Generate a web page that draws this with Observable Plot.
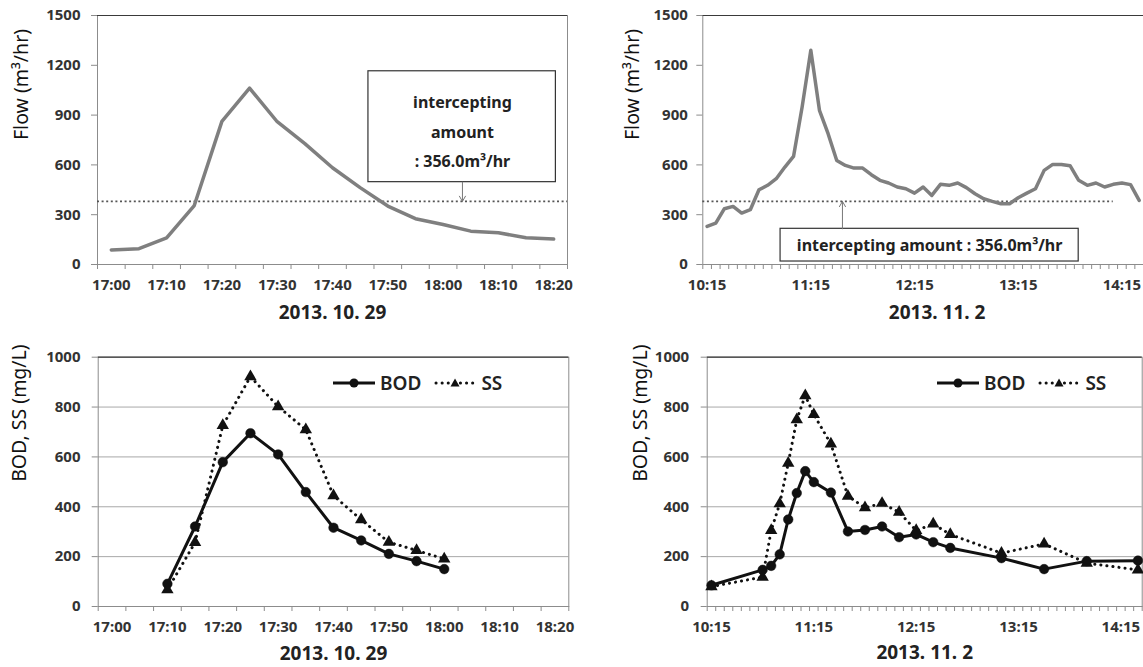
<!DOCTYPE html>
<html><head><meta charset="utf-8">
<script src="https://cdn.jsdelivr.net/npm/d3@7"></script>
<script src="https://cdn.jsdelivr.net/npm/@observablehq/plot@0.6"></script>
<style>
body{margin:0;background:#fff;font-family:"Noto Sans",sans-serif;}
#wrap{position:relative;width:1143px;height:667px;overflow:hidden;background:#fff;}
.panel{position:absolute;}
.panel g[aria-label*="axis"] text, .panel g[aria-label*="tick label"] text{font-size:15px !important;font-weight:700 !important;}
.legend{position:absolute;display:flex;align-items:center;height:24px;font-size:19px;font-weight:600;color:#222;font-family:"Noto Sans",sans-serif;}
.legend svg{display:block;}
</style></head><body><div id="wrap"></div>
<script>
// ---------- data ----------
const flowTimes1 = ["17:00","17:05","17:10","17:15","17:20","17:25","17:30","17:35","17:40","17:45","17:50","17:55","18:00","18:05","18:10","18:15","18:20"];
const flowValues1 = [88, 95, 160, 355, 862, 1062, 860, 728, 583, 463, 352, 276, 241, 201, 191, 161, 153];

const flowTimes2 = ["10:15","10:20","10:25","10:30","10:35","10:40","10:45","10:50","10:55","11:00","11:05","11:10","11:15","11:20","11:25","11:30","11:35","11:40","11:45","11:50","11:55","12:00","12:05","12:10","12:15","12:20","12:25","12:30","12:35","12:40","12:45","12:50","12:55","13:00","13:05","13:10","13:15","13:20","13:25","13:30","13:35","13:40","13:45","13:50","13:55","14:00","14:05","14:10","14:15","14:20","14:25"];
const flowValues2 = [229, 249, 336, 350, 310, 330, 450, 477, 517, 587, 651, 950, 1291, 929, 788, 627, 597, 581, 581, 541, 507, 491, 467, 456, 430, 467, 416, 483, 477, 491, 463, 426, 396, 380, 366, 366, 402, 430, 456, 567, 603, 603, 595, 507, 477, 491, 467, 483, 491, 481, 386];

const wqTimes1 = ["17:10","17:15","17:20","17:25","17:30","17:35","17:40","17:45","17:50","17:55","18:00"];
const bodValues1 = [91, 321, 579, 695, 610, 459, 316, 265, 211, 182, 150];
const ssValues1 = [67, 257, 726, 922, 802, 709, 445, 348, 258, 225, 191];

const wqTimes2 = ["10:15","10:45","10:50","10:55","11:00","11:05","11:10","11:15","11:25","11:35","11:45","11:55","12:05","12:15","12:25","12:35","13:05","13:30","13:55","14:25"];
const bodValues2 = [85, 147, 163, 209, 349, 455, 543, 499, 457, 301, 307, 321, 278, 289, 258, 235, 194, 150, 182, 184];
const ssValues2 = [80, 118, 305, 412, 575, 749, 846, 770, 652, 443, 396, 414, 378, 305, 331, 289, 214, 251, 174, 147];

const xLabels1 = ["17:00","17:10","17:20","17:30","17:40","17:50","18:00","18:10","18:20"];
const xLabels2 = ["10:15","11:15","12:15","13:15","14:15"];
const flowTicks = [0, 300, 600, 900, 1200, 1500];
const wqTicks = [0, 200, 400, 600, 800, 1000];
const wqGrid = [200, 400, 600, 800];

const dateTitle1 = "2013. 10. 29";
const dateTitle2 = "2013. 11. 2";
const flowLabel = "Flow (m³/hr)";
const wqLabel = "BOD, SS (mg/L)";
const interceptLevel = 380; // drawn position of the 356.0 m³/hr line
const annot1Lines = ["intercepting\namount\n: 356.0m³/hr"];
const annot2Lines = ["intercepting amount : 356.0m³/hr"];
const seriesNames = ["BOD", "SS"];

// ---------- helpers ----------
const toMin = (t, base) => { const [h, m] = t.split(":").map(Number); return h * 60 + m - base; };
const base1 = 17 * 60, base2 = 10 * 60 + 15;
const fmt = base => m => { const t = base + m; return `${Math.floor(t / 60)}:${String(t % 60).padStart(2, "0")}`; };
const bounds = (lo, hi) => d3.range(lo, hi + 0.01, 5);

const flow1 = flowTimes1.map((t, i) => ({x: toMin(t, base1), y: flowValues1[i]}));
const flow2 = flowTimes2.map((t, i) => ({x: toMin(t, base2), y: flowValues2[i]}));
const bod1 = wqTimes1.map((t, i) => ({x: toMin(t, base1), y: bodValues1[i]}));
const ss1 = wqTimes1.map((t, i) => ({x: toMin(t, base1), y: ssValues1[i]}));
const bod2 = wqTimes2.map((t, i) => ({x: toMin(t, base2), y: bodValues2[i]}));
const ss2 = wqTimes2.map((t, i) => ({x: toMin(t, base2), y: ssValues2[i]}));

const FONT = "Noto Sans";
const STYLE = {fontFamily: FONT, fontWeight: "bold", fontSize: "14.5px", background: "transparent"};
const wrap = document.getElementById("wrap");

function commonAxes({xmax, labels, base, yTicks, tickPad, yLabel, yLabelDx, title, titleDy, titleDx}) {
  return [
    Plot.frame({stroke: "#8c8c8c"}),
    Plot.ruleY([yTicks[yTicks.length - 1]], {stroke: "#3a3a3a", strokeWidth: 1.2}),
    Plot.axisY({ticks: yTicks, tickSize: 6, tickPadding: tickPad, tickFormat: d => String(d), fill: "#333", stroke: "#8c8c8c", label: null}),
    Plot.axisX({ticks: bounds(-2.5, xmax), tickSize: 5, tickFormat: () => "", stroke: "#8c8c8c", label: null}),
    Plot.axisX({ticks: labels.map(t => toMin(t, base)), tickSize: 0, tickPadding: 15, tickFormat: fmt(base), fill: "#333", label: null}),
    Plot.text([yLabel], {frameAnchor: "left", dx: yLabelDx, rotate: -90, fontSize: 19.5, fontWeight: "normal", fill: "#111"}),
    Plot.text([title], {frameAnchor: "bottom", dy: titleDy, dx: titleDx || 0, fontSize: 19, fontWeight: "bold", fill: "#222"})
  ];
}

function place(svg, left, top) {
  svg.classList.add("panel");
  svg.style.left = left + "px";
  svg.style.top = top + "px";
  wrap.appendChild(svg);
}

// ---------- top-left ----------
place(Plot.plot({
  width: 575, height: 335,
  marginLeft: 97, marginRight: 8, marginTop: 15, marginBottom: 71,
  x: {domain: [-2.5, 82.5], axis: null},
  y: {domain: [0, 1500], axis: null},
  style: STYLE,
  marks: [
    ...commonAxes({xmax: 82.5, labels: xLabels1, base: base1, yTicks: flowTicks, tickPad: 11, yLabel: flowLabel, yLabelDx: -76, title: dateTitle1, titleDy: 54}),
    Plot.ruleY([interceptLevel], {x1: -2.5, x2: 82.5, stroke: "#555", strokeWidth: 1.6, strokeDasharray: "2,2.6"}),
    Plot.line(flow1, {x: "x", y: "y", stroke: "#7f7f7f", strokeWidth: 3.5, strokeLinejoin: "round"}),
    Plot.rect([{x1: 46.5, x2: 80.4, y1: 496, y2: 1164}], {x1: "x1", x2: "x2", y1: "y1", y2: "y2", fill: "white", stroke: "#333", strokeWidth: 1.2}),
    Plot.text(annot1Lines, {x: 63.5, y: 822, text: d => d, lineHeight: 1.85, fontSize: 16, fontWeight: "bold", fill: "#222"}),
    Plot.arrow([{x1: 63.5, y1: 496, x2: 63.5, y2: interceptLevel}], {x1: "x1", y1: "y1", x2: "x2", y2: "y2", stroke: "#777", strokeWidth: 1, headLength: 9})
  ]
}), 0, 0);

// ---------- top-right ----------
place(Plot.plot({
  width: 568, height: 335,
  marginLeft: 127.3, marginRight: 0, marginTop: 15, marginBottom: 71,
  x: {domain: [-2.5, 252.5], axis: null},
  y: {domain: [0, 1500], axis: null},
  style: STYLE,
  marks: [
    ...commonAxes({xmax: 252.5, labels: xLabels2, base: base2, yTicks: flowTicks, tickPad: 9, yLabel: flowLabel, yLabelDx: -70, title: dateTitle2, titleDy: 54, titleDx: 14}),
    Plot.ruleY([interceptLevel], {x1: -2.5, x2: 235, stroke: "#555", strokeWidth: 1.6, strokeDasharray: "2,2.6"}),
    Plot.line(flow2, {x: "x", y: "y", stroke: "#7f7f7f", strokeWidth: 3.5, strokeLinejoin: "round"}),
    Plot.rect([{x1: 42.5, x2: 215, y1: 18, y2: 215}], {x1: "x1", x2: "x2", y1: "y1", y2: "y2", fill: "white", stroke: "#333", strokeWidth: 1.2}),
    Plot.text(annot2Lines, {x: 128.75, y: 115, text: d => d, fontSize: 16, fontWeight: "bold", fill: "#222"}),
    Plot.arrow([{x1: 78.3, y1: 215, x2: 78.3, y2: interceptLevel}], {x1: "x1", y1: "y1", x2: "x2", y2: "y2", stroke: "#777", strokeWidth: 1, headLength: 9})
  ]
}), 575, 0);

// ---------- bottom panels ----------
function wqMarks(bod, ss) {
  return [
    Plot.line(bod, {x: "x", y: "y", stroke: "#111", strokeWidth: 3, strokeLinejoin: "round"}),
    Plot.line(ss, {x: "x", y: "y", stroke: "#111", strokeWidth: 3, strokeDasharray: "0.1,6", strokeLinecap: "round"}),
    Plot.dot(bod, {x: "x", y: "y", r: 4.8, fill: "#111", stroke: "#111", strokeWidth: 0.5}),
    Plot.dot(ss, {x: "x", y: "y", r: 4.6, symbol: "triangle", fill: "#111"})
  ];
}

place(Plot.plot({
  width: 575, height: 332,
  marginLeft: 97.7, marginRight: 6.7, marginTop: 21.7, marginBottom: 61,
  x: {domain: [-2.5, 82.5], axis: null},
  y: {domain: [0, 1000], axis: null},
  style: STYLE,
  marks: [
    Plot.ruleY(wqGrid, {stroke: "#a8a8a8"}),
    ...commonAxes({xmax: 82.5, labels: xLabels1, base: base1, yTicks: wqTicks, tickPad: 11.7, yLabel: wqLabel, yLabelDx: -78.7, title: dateTitle1, titleDy: 53}),
    ...wqMarks(bod1, ss1)
  ]
}), 0, 335);

place(Plot.plot({
  width: 568, height: 332,
  marginLeft: 131.7, marginRight: 1.3, marginTop: 21.7, marginBottom: 61,
  x: {domain: [-2.5, 252.5], axis: null},
  y: {domain: [0, 1000], axis: null},
  style: STYLE,
  marks: [
    Plot.ruleY(wqGrid, {stroke: "#a8a8a8"}),
    ...commonAxes({xmax: 252.5, labels: xLabels2, base: base2, yTicks: wqTicks, tickPad: 12, yLabel: wqLabel, yLabelDx: -66.7, title: dateTitle2, titleDy: 52}),
    ...wqMarks(bod2, ss2)
  ]
}), 575, 335);

// ---------- legends ----------
function legend(left, top) {
  const d = document.createElement("div");
  d.className = "legend";
  d.style.left = left + "px";
  d.style.top = top + "px";
  d.innerHTML =
    `<svg width="42" height="12"><line x1="0" x2="42" y1="6" y2="6" stroke="#111" stroke-width="3"/><circle cx="21" cy="6" r="4.5" fill="#111"/></svg>` +
    `<span style="margin-left:5px">${seriesNames[0]}</span>` +
    `<svg width="42" height="12" style="margin-left:13px"><line x1="2" x2="40" y1="6" y2="6" stroke="#111" stroke-width="3" stroke-linecap="round" stroke-dasharray="0.1,6"/><path d="M21,1.5 L25.5,9.5 L16.5,9.5 Z" fill="#111"/></svg>` +
    `<span style="margin-left:5px">${seriesNames[1]}</span>`;
  wrap.appendChild(d);
}
legend(333, 371);
legend(937, 371);
</script></body></html>
